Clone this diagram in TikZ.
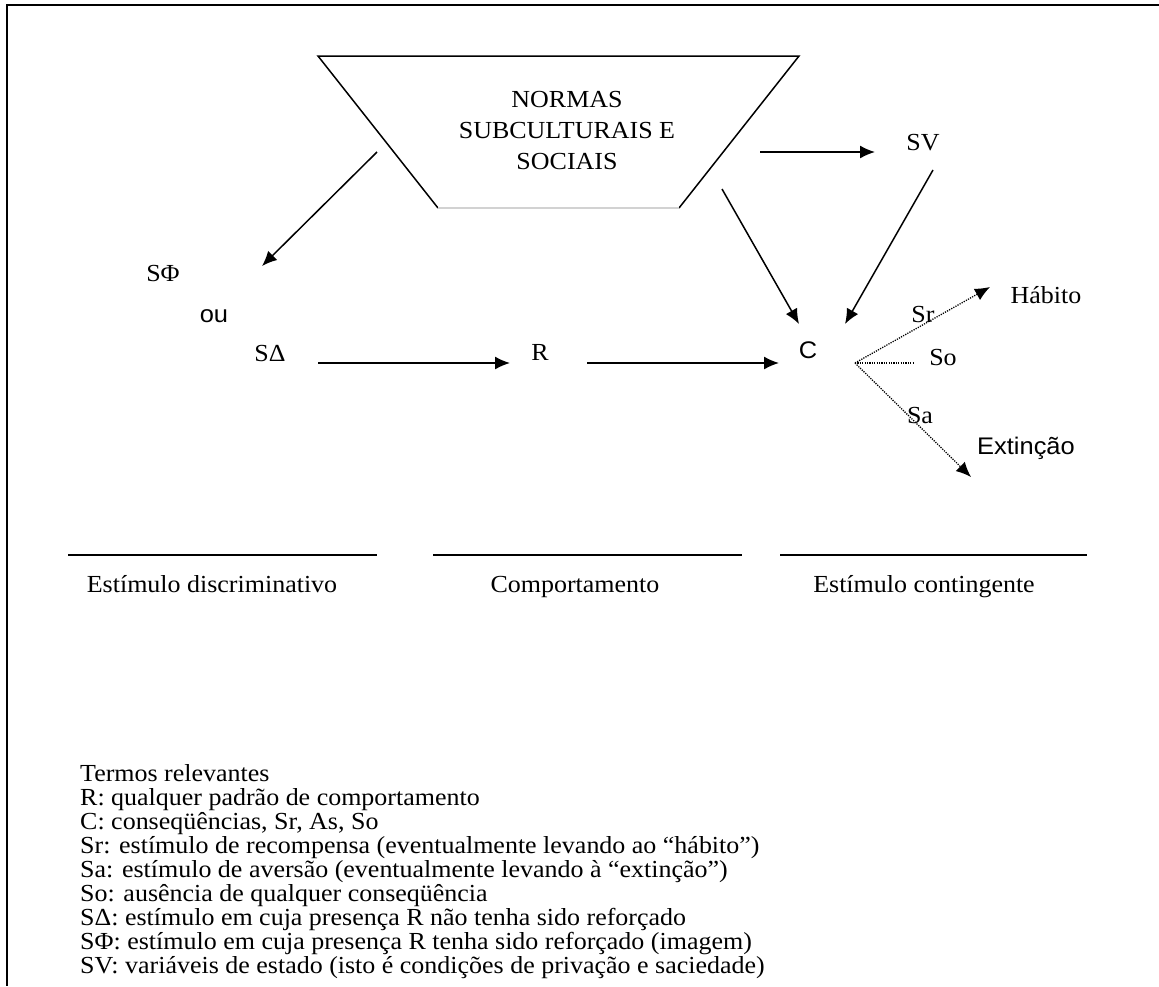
\documentclass[tikz,border=0pt]{standalone}
\usepackage{fontspec}
% slightly widened faces give the broad, low look of the labels
\setmainfont{Liberation Serif}[FakeStretch=1.06]
\newfontfamily\arialfont{Liberation Sans}[FakeStretch=1.06]
\usetikzlibrary{arrows.meta}
\begin{document}
\begin{tikzpicture}[x=1pt,y=-1pt,
  txt/.style={inner sep=0pt, anchor=base, font=\fontsize{24.5}{28}\selectfont},
  sans/.style={inner sep=0pt, anchor=base, font=\arialfont\fontsize{24}{28}\selectfont},
  legend/.style={inner sep=0pt, anchor=base west, font=\fontsize{24.5}{28}\selectfont},
  arr/.style={line width=1.5pt, -{Latex[length=15pt,width=13pt]}},
  dotarr/.style={line width=1.3pt, dash pattern=on 1.2pt off 1.2pt, -{Latex[length=15pt,width=13pt]}},
  dotline/.style={line width=1.3pt, dash pattern=on 1.2pt off 1.2pt},
  rule/.style={line width=2pt}]
\useasboundingbox (0,0) rectangle (1159,986);
\fill[white] (0,0) rectangle (1159,986);
% outer frame (top and left edges)
\draw[line width=2.2pt] (1159,5) -- (7,5) -- (7,986);

% trapezium with the norms
\coordinate (tl) at (318,56);
\coordinate (tr) at (799,56);
\coordinate (br) at (679,208);
\coordinate (bl) at (438,208);
\draw[line width=1.5pt, line join=miter] (bl) -- (tl) -- (tr) -- (br);
\draw[gray!35, line width=2.5pt] (bl) -- (br);
\node[inner sep=0pt, align=center, font=\fontsize{24.5}{31}\selectfont] (normas) at (567,131)
  {NORMAS\\SUBCULTURAIS E\\SOCIAIS};

% labels
\node[txt] (sphi) at (163,281) {SΦ};
\node[sans] (ou) at (214,322) {ou};
\node[txt] (sdelta) at (270,361) {SΔ};
\node[txt] (r) at (540,360) {R};
\node[sans] (c) at (808,358) {C};
\node[txt] (sv) at (923,150) {SV};
\node[txt] (sr) at (923,322) {Sr};
\node[txt] (so) at (943,365) {So};
\node[txt] (sa) at (920,423) {Sa};
\node[txt] (habito) at (1046,303) {Hábito};
\node[sans] (extincao) at (1026,454) {Extinção};

% connector end points
\coordinate (n1) at (377,152);
\coordinate (phiend) at (262,266);
\coordinate (n2) at (760,152);
\coordinate (svend) at (875,152);
\coordinate (n3) at (722,189);
\coordinate (cend1) at (799,324);
\coordinate (sv1) at (933,170);
\coordinate (cend2) at (845,324);
\coordinate (sd1) at (318,363);
\coordinate (rend) at (510,363);
\coordinate (r1) at (587,363);
\coordinate (cend3) at (779,363);
\coordinate (c0) at (855,363);
\coordinate (habend) at (990,287);
\coordinate (soend) at (913,363);
\coordinate (extend) at (971,477);

\draw[arr] (n1) -- (phiend);
\draw[arr] (n2) -- (svend);
\draw[arr] (n3) -- (cend1);
\draw[arr] (sv1) -- (cend2);
\draw[arr] (sd1) -- (rend);
\draw[arr] (r1) -- (cend3);
\draw[dotarr] (c0) -- (habend);
\draw[dotline] (c0) -- (soend);
\draw[dotarr] (c0) -- (extend);

% column rules and captions
\coordinate (u1a) at (68,555);  \coordinate (u1b) at (377,555);
\coordinate (u2a) at (433,555); \coordinate (u2b) at (742,555);
\coordinate (u3a) at (780,555); \coordinate (u3b) at (1087,555);
\draw[rule] (u1a) -- (u1b);
\draw[rule] (u2a) -- (u2b);
\draw[rule] (u3a) -- (u3b);
\node[txt] (cap1) at (212,592) {Estímulo discriminativo};
\node[txt] (cap2) at (575,592) {Comportamento};
\node[txt] (cap3) at (924,592) {Estímulo contingente};

% glossary
\node[legend] (l1) at (80,781) {Termos relevantes};
\node[legend] (l2) at (80,805) {R: qualquer padrão de comportamento};
\node[legend] (l3) at (80,829) {C: conseqüências, Sr, As, So};
\node[legend] (l4) at (80,853) {Sr: estímulo de recompensa (eventualmente levando ao “hábito”)};
\node[legend] (l5) at (80,877) {Sa: estímulo de aversão (eventualmente levando à “extinção”)};
\node[legend] (l6) at (80,901) {So: ausência de qualquer conseqüência};
\node[legend] (l7) at (80,925) {SΔ: estímulo em cuja presença R não tenha sido reforçado};
\node[legend] (l8) at (80,949) {SΦ: estímulo em cuja presença R tenha sido reforçado (imagem)};
\node[legend] (l9) at (80,973) {SV: variáveis de estado (isto é condições de privação e saciedade)};
\end{tikzpicture}
\end{document}
